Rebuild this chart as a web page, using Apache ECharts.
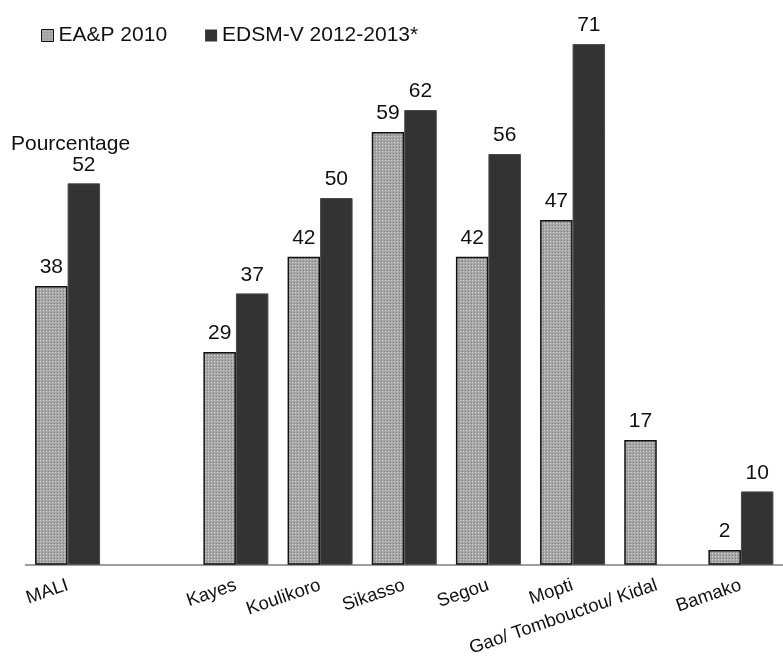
<!DOCTYPE html>
<html>
<head>
<meta charset="utf-8">
<script src="https://cdn.jsdelivr.net/npm/echarts@6/dist/echarts.min.js"></script>
<style>
  html, body { margin: 0; padding: 0; background: #fff; }
  #chart { width: 783px; height: 659px; }
</style>
</head>
<body>
<div id="chart"></div>
<script>
// Regions (blank slot separates the national figure from the regions)
const categories = ['MALI', '', 'Kayes', 'Koulikoro', 'Sikasso', 'Segou', 'Mopti', 'Gao/ Tombouctou/ Kidal', 'Bamako'];
const seriesNames = ['EA&P 2010', 'EDSM-V 2012-2013*'];
const eap2010 = [38, null, 29, 42, 59, 42, 47, 17, 2];
const edsm2012 = [52, null, 37, 50, 62, 56, 71, null, 10];

// Fine dotted fill for the EA&P bars: light dots on a mid-grey mesh
function dotPattern() {
  const c = document.createElement('canvas');
  c.width = 3; c.height = 3;
  const g = c.getContext('2d');
  g.fillStyle = '#a6a6a6'; g.fillRect(0, 0, 3, 3);
  g.fillStyle = '#828282'; g.fillRect(0, 0, 1, 1);
  g.fillStyle = '#d2d2d2'; g.fillRect(1, 1, 1, 1);
  return { image: c, repeat: 'repeat' };
}
const dotted = dotPattern();

const FONT = '"Liberation Sans", Arial, sans-serif';
const chart = echarts.init(document.getElementById('chart'), null, { renderer: 'canvas' });

const valueLabel = {
  show: true,
  position: 'top',
  distance: 8,
  color: '#111',
  fontSize: 21,
  fontFamily: FONT
};

chart.setOption({
  animation: false,
  backgroundColor: '#fff',
  title: {
    text: 'Pourcentage',
    left: 6,
    top: 129,
    textStyle: { fontFamily: FONT, fontSize: 21, fontWeight: 'normal', color: '#111' }
  },
  legend: {
    left: 36,
    top: 20,
    itemWidth: 12,
    itemHeight: 12,
    itemGap: 38,
    textStyle: { fontFamily: FONT, fontSize: 21, color: '#111' },
    data: [
      { name: seriesNames[0], icon: 'rect', itemStyle: { color: dotted, borderColor: '#111', borderWidth: 1 } },
      { name: seriesNames[1], icon: 'rect', itemStyle: { color: '#333333', borderColor: '#333333', borderWidth: 0 } }
    ]
  },
  grid: { left: 25.5, top: 44, width: 765, bottom: 90, containLabel: false },
  xAxis: {
    type: 'category',
    data: categories,
    axisLine: { show: true, lineStyle: { color: '#7f7f7f', width: 1.5 } },
    axisTick: { show: false },
    axisLabel: {
      interval: 0,
      rotate: 19,
      margin: 20,
      fontFamily: FONT,
      fontSize: 18.5,
      color: '#111'
    }
  },
  yAxis: {
    type: 'value',
    min: 0,
    max: 71,
    show: false,
    splitLine: { show: false }
  },
  series: [
    {
      name: seriesNames[0],
      type: 'bar',
      data: eap2010,
      barWidth: 32.5,
      barGap: '0%',
      itemStyle: { color: dotted, borderColor: '#111', borderWidth: 1.5 },
      label: valueLabel
    },
    {
      name: seriesNames[1],
      type: 'bar',
      data: edsm2012,
      barWidth: 32.5,
      barGap: '0%',
      itemStyle: { color: '#333333', borderColor: '#4a4a4a', borderWidth: 1 },
      label: valueLabel
    }
  ]
});
</script>
</body>
</html>
